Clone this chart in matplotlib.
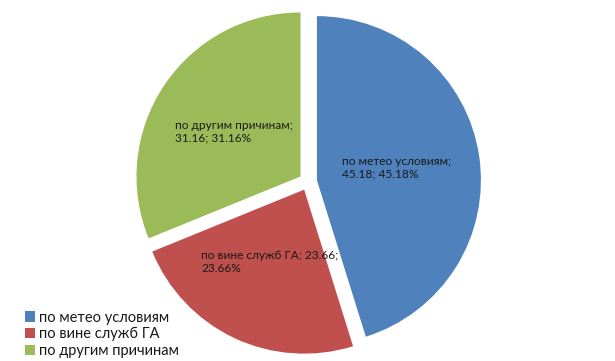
import matplotlib
matplotlib.use("Agg")
import matplotlib.pyplot as plt

categories = ["по метео условиям", "по вине служб ГА", "по другим причинам"]
values = [45.18, 23.66, 31.16]
label_texts = ["по метео условиям;\n45.18; 45.18%",
               "по вине служб ГА; 23.66;\n23.66%",
               "по другим причинам;\n31.16; 31.16%"]
colors = ["#4F81BD", "#C0504D", "#9BBB59"]

plt.rcParams['font.family'] = ['Lato', 'DejaVu Sans']

W, H = 615, 361
fig = plt.figure(figsize=(W / 100, H / 100), dpi=100)
R = 164.0
lim = 1.2
size = 2 * lim * R
cx, cy = 308.0, H - 181.5
ax = fig.add_axes([(cx - size / 2) / W, (cy - size / 2) / H, size / W, size / H])

wedges, texts, autotexts = ax.pie(
    values, colors=colors, startangle=90, counterclock=False,
    explode=[0.055] * 3, radius=1.0, autopct="%1.2f",
    pctdistance=0.49,
    wedgeprops=dict(linewidth=0),
    textprops=dict(fontsize=8.6, color="#1a1a1a", multialignment="left"))
for t, s in zip(autotexts, label_texts):
    t.set_text(s)
ax.set_xlim(-lim, lim)
ax.set_ylim(-lim, lim)
ax.set_aspect('equal')
ax.axis('off')

leg = fig.legend(wedges, categories, loc='lower left',
                 bbox_to_anchor=(22 / W, 0 / H), frameon=False,
                 fontsize=10.5, handlelength=0.7, handleheight=0.7,
                 handletextpad=0.25, labelspacing=0.18, borderaxespad=0.0,
                 borderpad=0.2)
for t in leg.get_texts():
    t.set_color("#1a1a1a")

fig.savefig("out.png", dpi=100)
